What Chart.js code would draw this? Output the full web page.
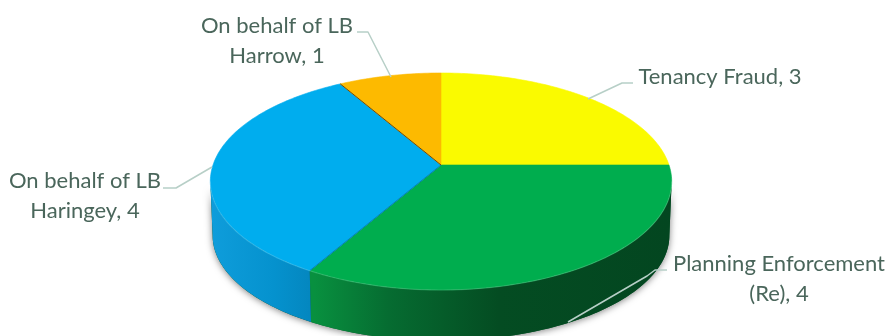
<!DOCTYPE html>
<html>
<head>
<meta charset="utf-8">
<style>
html,body{margin:0;padding:0;background:#fff;overflow:hidden}
canvas{display:block}
</style>
<script src="https://cdn.jsdelivr.net/npm/chart.js@4"></script>
</head>
<body>
<canvas id="pie" width="888" height="336"></canvas>
<script>
const categories = ['Tenancy Fraud', 'Planning Enforcement (Re)', 'On behalf of LB Haringey', 'On behalf of LB Harrow'];
const caseCounts = [3, 4, 4, 1];
const sliceColors = ['#fafa00', '#00ad4e', '#00adee', '#fdba00'];

// Line breaks and placement of the callouts, in slice order.
const calloutLines = [
  ['Tenancy Fraud'],
  ['Planning Enforcement', '(Re)'],
  ['On behalf of LB', 'Haringey'],
  ['On behalf of LB', 'Harrow']
];
const calloutAnchors = [
  {x: 720, y: 84},
  {x: 779, y: 271},
  {x: 85, y: 188},
  {x: 277, y: 33}
];
const leaderPaths = [
  [[633, 83], [622, 83], [588, 99]],
  [[667, 270], [655, 270], [647, 276], [568, 322]],
  [[163, 188], [176, 188], [212, 167]],
  [[357, 32], [368, 32], [391, 77]]
];

// Tilted disc: perspective projection of the unit circle onto the page.
const DISC = {cx: 441, cy: 165, rx: 228, ry: 106, k: 0.152, midY: 181, depth: 54};
// Angles at which the projected outline is widest; the wall runs between them.
const WALL_START = Math.asin(DISC.k);
const WALL_END = Math.PI - WALL_START;

function topPoint(theta) {
  const u = Math.cos(theta), v = Math.sin(theta), w = 1 - DISC.k * v;
  return [DISC.cx + DISC.rx * u / w, DISC.cy + DISC.ry * v / w];
}
function bottomPoint(theta) {
  const p = topPoint(theta);
  return [DISC.cx + (p[0] - DISC.cx) * 0.99, DISC.midY + (p[1] - DISC.midY) * 0.97 + DISC.depth];
}
function arcSamples(start, end) {
  const n = Math.max(2, Math.ceil((end - start) / (Math.PI / 180)));
  const out = [];
  for (let i = 0; i <= n; i++) out.push(start + (end - start) * i / n);
  return out;
}
function tracePolygon(ctx, pts) {
  ctx.beginPath();
  pts.forEach((p, i) => i ? ctx.lineTo(p[0], p[1]) : ctx.moveTo(p[0], p[1]));
  ctx.closePath();
}
function wallPolygon(start, end) {
  const a = arcSamples(start, end);
  return a.map(topPoint).concat(a.slice().reverse().map(bottomPoint));
}
function wallGradient(ctx, x0, x1, stops) {
  const g = ctx.createLinearGradient(x0, 0, x1, 0);
  stops.forEach(s => g.addColorStop(s[0], s[1]));
  return g;
}

const tiltedPie = {
  id: 'tiltedPie',
  beforeDatasetDraw(chart, args) {
    const ctx = chart.ctx;
    const arcs = chart.getDatasetMeta(args.index).data;
    ctx.save();

    // Soft shadow around the wall
    ctx.save();
    ctx.shadowColor = 'rgba(0,0,0,0.5)';
    ctx.shadowBlur = 7;
    ctx.shadowOffsetX = 0;
    ctx.shadowOffsetY = 1;
    ctx.fillStyle = '#07572a';
    tracePolygon(ctx, wallPolygon(WALL_START, WALL_END));
    ctx.fill();
    ctx.restore();

    // Outer walls of the two front slices
    const walls = {
      1: wallGradient(ctx, 314, 670, [[0, '#08903f'], [0.21, '#066c31'], [0.52, '#044c22'], [1, '#034620']]),
      2: wallGradient(ctx, 210, 316, [[0, '#0f9ddb'], [0.6, '#0592ce'], [1, '#0485bd']])
    };
    [1, 2].forEach(i => {
      const s = Math.max(arcs[i].startAngle, WALL_START);
      const e = Math.min(arcs[i].endAngle, WALL_END);
      tracePolygon(ctx, wallPolygon(s, e));
      ctx.fillStyle = walls[i];
      ctx.fill();
    });

    // Top face of every slice
    arcs.forEach((arc, i) => {
      const a = arcSamples(arc.startAngle, arc.endAngle);
      tracePolygon(ctx, [[DISC.cx, DISC.cy]].concat(a.map(topPoint)));
      ctx.fillStyle = sliceColors[i];
      ctx.strokeStyle = sliceColors[i];
      ctx.lineWidth = 0.6;
      ctx.fill();
      ctx.stroke();
    });

    // Seams where the dark slice edges show
    const seams = [[arcs[2].startAngle, '#0a7fae'], [arcs[3].startAngle, '#6a4a12']];
    seams.forEach(([theta, color]) => {
      const p = topPoint(theta);
      ctx.beginPath();
      ctx.moveTo(DISC.cx, DISC.cy);
      ctx.lineTo(p[0], p[1]);
      ctx.strokeStyle = color;
      ctx.lineWidth = 1;
      ctx.stroke();
    });

    // Faint bevel along the front of the top face
    const bevel = arcSamples(WALL_START, WALL_END).map(topPoint);
    ctx.beginPath();
    bevel.forEach((p, i) => i ? ctx.lineTo(p[0], p[1]) : ctx.moveTo(p[0], p[1]));
    ctx.strokeStyle = 'rgba(255,255,255,0.14)';
    ctx.lineWidth = 1.2;
    ctx.stroke();
    ctx.restore();
    return false;
  },
  afterDatasetsDraw(chart) {
    const ctx = chart.ctx;
    ctx.save();
    ctx.strokeStyle = '#b7cfc7';
    ctx.lineWidth = 1.5;
    ctx.lineJoin = 'round';
    leaderPaths.forEach(path => {
      ctx.beginPath();
      path.forEach((p, i) => i ? ctx.lineTo(p[0], p[1]) : ctx.moveTo(p[0], p[1]));
      ctx.stroke();
    });
    ctx.fillStyle = '#4a665b';
    ctx.font = '22px Lato';
    ctx.textAlign = 'center';
    ctx.textBaseline = 'alphabetic';
    categories.forEach((name, i) => {
      const lines = calloutLines[i].slice();
      lines[lines.length - 1] += ', ' + caseCounts[i];
      lines.forEach((line, n) => ctx.fillText(line, calloutAnchors[i].x, calloutAnchors[i].y + n * 30));
    });
    ctx.restore();
  }
};

new Chart(document.getElementById('pie'), {
  type: 'pie',
  data: {
    labels: categories,
    datasets: [{data: caseCounts, backgroundColor: sliceColors, borderWidth: 0}]
  },
  options: {
    responsive: false,
    animation: false,
    plugins: {legend: {display: false}, tooltip: {enabled: false}}
  },
  plugins: [tiltedPie]
});
</script>
</body>
</html>
